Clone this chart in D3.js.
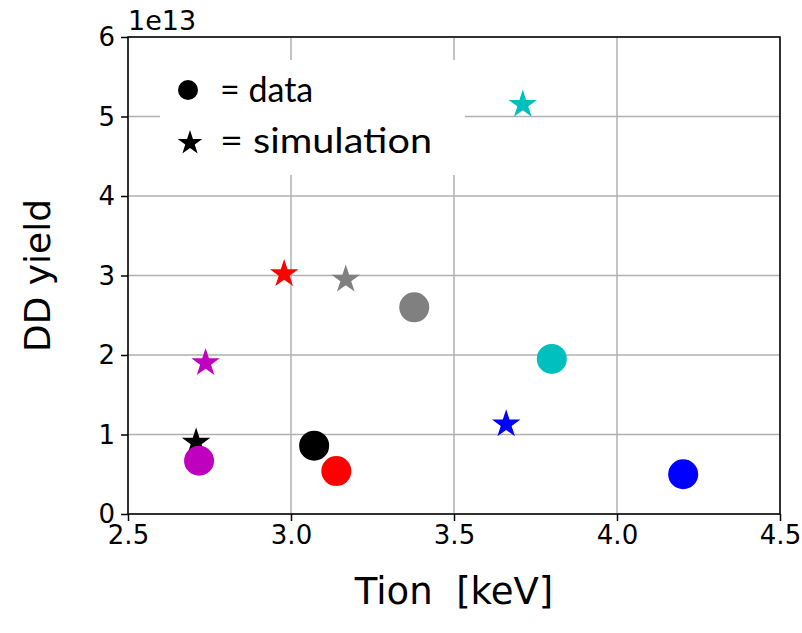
<!DOCTYPE html>
<html>
<head>
<meta charset="utf-8">
<script src="https://cdn.jsdelivr.net/npm/d3@7"></script>
<style>
  body { margin: 0; background: #fff; }
  svg { display: block; }
</style>
</head>
<body>
<svg id="chart" width="802" height="633"></svg>
<script>
// colours of each shot, shared by data and simulation
const shotColors = ["#bf00bf", "#000000", "#ff0000", "#808080", "#00bfbf", "#0000ff"];

// measured points (circles)
const dataTion = [2.718, 3.071, 3.139, 3.378, 3.800, 4.203];
const dataYield = [0.67e13, 0.86e13, 0.54e13, 2.60e13, 1.95e13, 0.50e13];

// simulated points (stars)
const simTion = [2.738, 2.709, 2.979, 3.168, 3.711, 3.660];
const simYield = [1.90e13, 0.90e13, 3.02e13, 2.95e13, 5.15e13, 1.13e13];

const xTicks = [2.5, 3.0, 3.5, 4.0, 4.5];
const yTicks = [0, 1e13, 2e13, 3e13, 4e13, 5e13, 6e13];

const width = 802;
const height = 633;
const margin = { top: 37, right: 22, bottom: 119, left: 128 };

const svg = d3.select("#chart");

const x = d3.scaleLinear().domain([2.5, 4.5]).range([margin.left, width - margin.right]);
const y = d3.scaleLinear().domain([0, 6e13]).range([height - margin.bottom, margin.top]);

const tickFont = "DejaVu Sans, sans-serif";

// grid
svg.append("g")
  .selectAll("line")
  .data(xTicks)
  .join("line")
  .attr("x1", (d) => x(d))
  .attr("x2", (d) => x(d))
  .attr("y1", y(0))
  .attr("y2", y(6e13))
  .attr("stroke", "#b0b0b0")
  .attr("stroke-width", 1.5);

svg.append("g")
  .selectAll("line")
  .data(yTicks)
  .join("line")
  .attr("x1", x(2.5))
  .attr("x2", x(4.5))
  .attr("y1", (d) => y(d))
  .attr("y2", (d) => y(d))
  .attr("stroke", "#b0b0b0")
  .attr("stroke-width", 1.5);

// axes
const xAxis = svg.append("g")
  .attr("transform", `translate(0,${y(0)})`)
  .call(d3.axisBottom(x).tickValues(xTicks).tickFormat(d3.format(".1f")).tickSize(7).tickPadding(5));

const yAxis = svg.append("g")
  .attr("transform", `translate(${x(2.5)},0)`)
  .call(d3.axisLeft(y).tickValues(yTicks).tickFormat((d) => d / 1e13).tickSize(7).tickPadding(6));

[xAxis, yAxis].forEach((g) => {
  g.select(".domain").remove();
  g.selectAll(".tick line").attr("stroke", "#000").attr("stroke-width", 1.5);
  g.selectAll(".tick text")
    .attr("fill", "#000")
    .attr("font-family", tickFont)
    .attr("font-size", 26);
});
yAxis.selectAll(".tick text").attr("dy", "0.34em");

// frame
svg.append("rect")
  .attr("x", x(2.5))
  .attr("y", y(6e13))
  .attr("width", x(4.5) - x(2.5))
  .attr("height", y(0) - y(6e13))
  .attr("fill", "none")
  .attr("stroke", "#000")
  .attr("stroke-width", 1.5);

// offset text
svg.append("text")
  .attr("x", x(2.5))
  .attr("y", 30)
  .attr("font-family", tickFont)
  .attr("font-size", 27)
  .text("1e13");

// axis labels
svg.append("text")
  .attr("x", (x(2.5) + x(4.5)) / 2)
  .attr("y", 604)
  .attr("text-anchor", "middle")
  .attr("font-family", tickFont)
  .attr("font-size", 37)
  .attr("xml:space", "preserve")
  .text("Tion  [keV]");

svg.append("text")
  .attr("transform", `translate(50,${(y(0) + y(6e13)) / 2}) rotate(-90)`)
  .attr("text-anchor", "middle")
  .attr("font-family", tickFont)
  .attr("font-size", 36)
  .text("DD yield");

// star path like matplotlib's '*' marker
const starPath = (r) => {
  const pts = d3.range(10).map((i) => {
    const a = (i * Math.PI) / 5 - Math.PI / 2;
    const rr = i % 2 === 0 ? r : r * 0.382;
    return [rr * Math.cos(a), rr * Math.sin(a)];
  });
  return `M${pts.join("L")}Z`;
};

const sims = simTion.map((t, i) => ({ t, v: simYield[i], c: shotColors[i] }));
const meas = dataTion.map((t, i) => ({ t, v: dataYield[i], c: shotColors[i] }));

svg.append("g")
  .selectAll("path")
  .data(sims)
  .join("path")
  .attr("d", starPath(15))
  .attr("transform", (d) => `translate(${x(d.t)},${y(d.v)})`)
  .attr("fill", (d) => d.c);

svg.append("g")
  .selectAll("circle")
  .data(meas)
  .join("circle")
  .attr("cx", (d) => x(d.t))
  .attr("cy", (d) => y(d.v))
  .attr("r", 15)
  .attr("fill", (d) => d.c);

// legend (pasted on a white box)
const legend = svg.append("g");
legend.append("rect")
  .attr("x", 160)
  .attr("y", 60)
  .attr("width", 305)
  .attr("height", 115)
  .attr("fill", "#fff");
legend.append("circle").attr("cx", 188).attr("cy", 90).attr("r", 10).attr("fill", "#000");
legend.append("path").attr("d", starPath(13)).attr("transform", "translate(190,143)").attr("fill", "#000");
legend.append("text")
  .attr("x", 220).attr("y", 102)
  .attr("font-family", "Lato, Open Sans, sans-serif")
  .attr("font-size", 34)
  .text("= data");
legend.append("text")
  .attr("x", 220).attr("y", 153)
  .attr("font-family", "Lato, Open Sans, sans-serif")
  .attr("font-size", 34)
  .attr("textLength", 212)
  .attr("lengthAdjust", "spacingAndGlyphs")
  .text("= simulation");
</script>
</body>
</html>
